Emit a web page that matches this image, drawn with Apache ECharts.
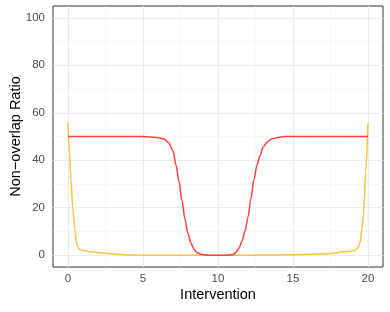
<!DOCTYPE html>
<html><head><meta charset="utf-8">
<script src="https://cdn.jsdelivr.net/npm/echarts@6/dist/echarts.min.js"></script>
<style>html,body{margin:0;padding:0;background:#fff}#c{width:390px;height:312px}</style>
</head><body><div id="c"></div>
<script>
// Data
const redX = [0,1,2,3,4,5,5.5,6,6.4,6.7,7.0,7.2,7.4,7.6,7.8,8.0,8.2,8.4,8.6,8.9,9.3,10,10.7,11.0,11.2,11.4,11.6,11.8,12.0,12.2,12.4,12.6,12.8,13.0,13.3,13.6,14.0,14.5,15,16,17,18,19,20];
const redY = [50,50,50,50,50,50,49.8,49.5,49,47.5,44,38,31,23,15,9,5,2.5,1,0.3,0,0,0,0.3,1.2,3,6,10,16,24,32,38,42,45.5,47.8,49,49.6,50,50,50,50,50,50,50];
const orangeX = [0,0.1,0.2,0.31,0.45,0.58,0.7,0.8,1.0,1.5,2.0,2.5,3.0,3.5,4.0,5,6,8,10,12,14,15,16,16.5,17,17.5,18,18.1,18.5,19,19.2,19.35,19.47,19.6,19.7,19.85,20];
const orangeY = [55.7,43,32,20,11,4.6,3,2.4,2,1.4,1.1,0.8,0.5,0.3,0.1,0,0,0,0,0,0.1,0.2,0.3,0.4,0.5,0.7,0.9,1.3,1.4,1.7,2.3,3.5,5.3,11,17,35,55.7];
const xTicks = [0,5,10,15,20];
const xMinor = [2.5,7.5,12.5,17.5];
const yTicks = [0,20,40,60,80,100];
const yMinor = [10,30,50,70,90];
const xTitle = 'Intervention';
const yTitle = 'Non\u2212overlap Ratio';

const pair = (xs, ys) => xs.map((x, i) => [x, ys[i]]);
const major = {color:'#EBEBEB', width:1.1, type:'solid'};
const minor = {color:'#F3F3F3', width:0.6, type:'solid'};
const gridLines = [
  ...xMinor.map(v => ({xAxis:v, lineStyle:minor})),
  ...yMinor.map(v => ({yAxis:v, lineStyle:minor})),
  ...xTicks.map(v => ({xAxis:v, lineStyle:major})),
  ...yTicks.map(v => ({yAxis:v, lineStyle:major}))
];
const font = "'Liberation Sans', Arial, sans-serif";
const chart = echarts.init(document.getElementById('c'), null, {renderer:'canvas'});
chart.setOption({
  animation:false,
  backgroundColor:'#ffffff',
  grid:{left:53, top:6, right:7, bottom:45, containLabel:false, outerBoundsMode:'none',
    show:true, borderColor:'#333333', borderWidth:1, backgroundColor:'#ffffff'},
  xAxis:{type:'value', min:-1, max:21,
    name:xTitle, nameLocation:'middle', nameGap:20, nameMoveOverlap:false,
    nameTextStyle:{fontFamily:font, fontSize:14.5, color:'#000'},
    axisLine:{show:false},
    axisTick:{show:true, length:3, lineStyle:{color:'#333333'}, customValues:xTicks},
    axisLabel:{customValues:xTicks, margin:6, fontFamily:font, fontSize:11.5, color:'#4D4D4D'},
    splitLine:{show:false}},
  yAxis:{type:'value', min:-5, max:105,
    name:yTitle, nameLocation:'middle', nameGap:30, nameMoveOverlap:false,
    nameTextStyle:{fontFamily:font, fontSize:14.5, color:'#000'},
    axisLine:{show:false},
    axisTick:{show:true, length:3, lineStyle:{color:'#333333'}, customValues:yTicks},
    axisLabel:{customValues:yTicks, margin:8, fontFamily:font, fontSize:11.5, color:'#4D4D4D'},
    splitLine:{show:false}},
  series:[
    {type:'line', data:[], silent:true, z:1,
      markLine:{silent:true, z:1, symbol:['none','none'], label:{show:false}, animation:false, data:gridLines}},
    {type:'line', data:pair(orangeX, orangeY), showSymbol:false, smooth:0.25, smoothMonotone:'x', z:3,
      lineStyle:{color:'#FFBF40', width:1.5}},
    {type:'line', data:pair(redX, redY), showSymbol:false, smooth:0.3, smoothMonotone:'x', z:4,
      lineStyle:{color:'#FF4040', width:1.5}}
  ]
});
</script></body></html>
